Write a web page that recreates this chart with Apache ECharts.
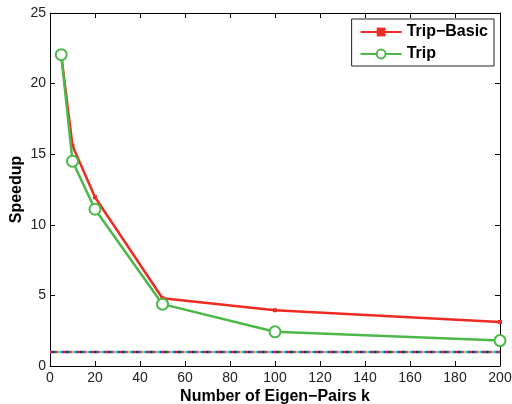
<!DOCTYPE html>
<html>
<head>
<meta charset="utf-8">
<script src="https://cdn.jsdelivr.net/npm/echarts@6/dist/echarts.min.js"></script>
<style>
  html, body { margin: 0; padding: 0; background: #fff; }
  #chart { width: 512px; height: 404px; }
</style>
</head>
<body>
<div id="chart"></div>
<script>
// Valeurs
var kValues = [5, 10, 20, 50, 100, 200];
var tripBasic = [22.0, 15.6, 11.95, 4.8, 3.95, 3.12];
var trip = [22.05, 14.5, 11.1, 4.38, 2.42, 1.8];
var baselineX = [0, 200];
var baselineY = 1;
var baselineColors = ['#e8262a', '#2a4fc4', '#19b7c9', '#c9c23a', '#c83fc4', '#1f7a3a', '#2b2f7a'];

function pairs(xs, ys)
{
    return xs.map(function (x, i) { return [x, Array.isArray(ys) ? ys[i] : ys]; });
}

var font = 'Liberation Sans, Arial, sans-serif';

// Ligne de référence pointillée multicolore
var baselineSeries = baselineColors.map(function (c, i) {
    return {
        type: 'line',
        name: 'base' + i,
        data: pairs(baselineX, baselineY),
        symbol: 'none',
        silent: true,
        z: 1,
        lineStyle: { color: c, width: 2.5, type: [2, 12], dashOffset: i * 2 }
    };
});

var axisBase = {
    axisLine: { show: true, onZero: false, lineStyle: { color: '#000', width: 1 } },
    axisTick: { show: true, inside: true, length: 5, lineStyle: { color: '#000' } },
    splitLine: { show: false }
};

var chart = echarts.init(document.getElementById('chart'));

chart.setOption({
    animation: false,
    grid: { left: 50, right: 12, top: 13, bottom: 38, outerBoundsMode: 'none', containLabel: false },
    legend: {
        data: ['Trip\u2212Basic', 'Trip'],
        orient: 'vertical',
        right: 18,
        top: 19,
        backgroundColor: '#fff',
        borderColor: '#222',
        borderWidth: 1,
        padding: [5, 6, 4, 8],
        itemGap: 6,
        itemWidth: 41,
        itemHeight: 11,
        textStyle: { fontFamily: font, fontSize: 16, fontWeight: 'bold', color: '#000' }
    },
    xAxis: [Object.assign({
        type: 'value',
        min: 0, max: 200, interval: 20,
        name: 'Number of Eigen\u2212Pairs k',
        nameLocation: 'middle',
        nameGap: 23,
        nameMoveOverlap: false,
        nameTextStyle: { fontFamily: font, fontSize: 16, fontWeight: 'bold', color: '#000' },
        axisLabel: { fontFamily: font, fontSize: 14, color: '#222', margin: 5 }
    }, axisBase), Object.assign({
        type: 'value', position: 'top',
        min: 0, max: 200, interval: 20,
        axisLabel: { show: false }
    }, axisBase)],
    yAxis: [Object.assign({
        type: 'value',
        min: 0, max: 25, interval: 5,
        name: 'Speedup',
        nameLocation: 'middle',
        nameGap: 25,
        nameMoveOverlap: false,
        nameTextStyle: { fontFamily: font, fontSize: 16, fontWeight: 'bold', color: '#000' },
        axisLabel: { fontFamily: font, fontSize: 14, color: '#222', margin: 4 }
    }, axisBase), Object.assign({
        type: 'value', position: 'right',
        min: 0, max: 25, interval: 5,
        axisLabel: { show: false }
    }, axisBase)],
    series: baselineSeries.concat([{
        type: 'line',
        name: 'Trip\u2212Basic',
        data: pairs(kValues, tripBasic),
        symbol: 'rect',
        symbolSize: 4,
        z: 3,
        itemStyle: { color: '#ee2c24' },
        lineStyle: { color: '#ee2c24', width: 2.5 }
    }, {
        type: 'line',
        name: 'Trip',
        data: pairs(kValues, trip),
        symbol: 'emptyCircle',
        symbolSize: 11,
        z: 4,
        itemStyle: { color: '#4cb848', borderColor: '#4cb848', borderWidth: 2.5 },
        lineStyle: { color: '#4cb848', width: 2.5 }
    }])
});
</script>
</body>
</html>
